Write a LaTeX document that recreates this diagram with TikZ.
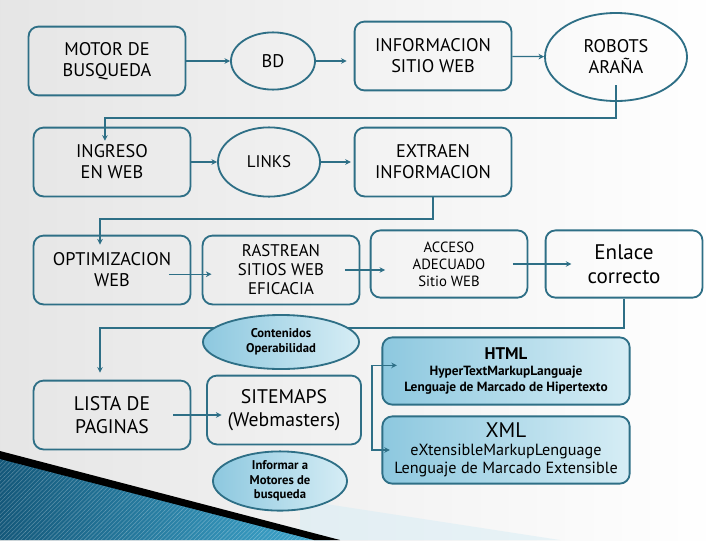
\documentclass[tikz,border=0pt]{standalone}
\usepackage{fontspec}
\setmainfont{PT Sans}
\usetikzlibrary{shapes.geometric,arrows.meta,patterns}
\definecolor{lineteal}{HTML}{2E6F86}
\definecolor{skyA}{HTML}{8DC8DF}
\definecolor{skyB}{HTML}{D6EDF5}
\definecolor{swooshA}{HTML}{14587A}
\definecolor{swooshB}{HTML}{3FA8CF}

\begin{document}
\begin{tikzpicture}[x=0.025cm, y=-0.025cm,
  box/.style={draw=lineteal, line width=1.3pt, rounded corners=7pt,
    minimum width=3.92cm, minimum height=1.72cm, align=center, inner sep=2pt},
  oval/.style={draw=lineteal, line width=1.3pt, ellipse, inner sep=0pt, align=center},
  bluebox/.style={box, left color=skyA, right color=skyB,
    minimum width=6.18cm, minimum height=1.68cm},
  blueoval/.style={oval, left color=skyA, right color=skyB},
  link/.style={draw=lineteal, line width=0.9pt, -{Stealth[length=4pt,width=4pt]}},
  big/.style={font=\fontsize{13}{15}\selectfont}]
  \useasboundingbox (0,0) rectangle (720,540);
  % Background
  \shade[left color=gray!20, right color=white] (0,0) rectangle (720,540);
  \fill[skyB, opacity=0.5] (300,500) -- (560,540) -- (300,540) -- cycle;
  % Swoosh
  \shade[left color=swooshA, right color=swooshB] (0,455) -- (330,540) -- (0,540) -- cycle;
  \fill[pattern=north east lines, pattern color=white, opacity=0.25]
    (0,455) -- (330,540) -- (0,540) -- cycle;
  \fill[black] (0,451) -- (340,540) -- (314,540) -- (0,459) -- cycle;
  % Row 1
  \node[box, big] (motor) at (107,61) {MOTOR DE\\BUSQUEDA};
  \node[oval, big, minimum width=2.1cm, minimum height=1.43cm] (bd) at (273,61) {BD};
  \node[box, big] (info) at (433,56) {INFORMACION\\SITIO WEB};
  \node[oval, big, minimum width=3.55cm, minimum height=2.2cm] (robots) at (616,57) {ROBOTS\\ARAÑA};
  % Row 2
  \node[box, big] (ingreso) at (112,162) {INGRESO\\EN WEB};
  \node[oval, font=\fontsize{12}{14}\selectfont, minimum width=2.55cm,
    minimum height=1.73cm] (links) at (269,162) {LINKS};
  \node[box, big] (extraen) at (433,162) {EXTRAEN\\INFORMACION};
  % Row 3
  \node[box, big] (optim) at (112,270) {OPTIMIZACION\\WEB};
  \node[box, font=\fontsize{12}{13.5}\selectfont] (rastrean) at (281,270) {RASTREAN\\SITIOS WEB\\EFICACIA};
  \node[box, minimum height=1.68cm, font=\fontsize{10.5}{12}\selectfont] (acceso) at (449,264)
    {ACCESO\\ADECUADO\\Sitio WEB};
  \node[box, minimum height=1.68cm, font=\fontsize{15}{17}\selectfont] (enlace) at (624,264)
    {Enlace\\correcto};
  % Row 4
  \node[box, font=\fontsize{14}{16}\selectfont] (lista) at (112,415) {LISTA DE\\PAGINAS};
  \node[box, font=\fontsize{14}{16}\selectfont, minimum width=3.85cm] (sitemaps) at (284,410)
    {SITEMAPS\\(Webmasters)};
  \node[bluebox, font=\fontsize{9.5}{11.5}\selectfont\bfseries] (html) at (506,371)
    {{\fontsize{12}{14}\selectfont HTML}\\HyperTextMarkupLanguaje\\Lenguaje de Marcado de Hipertexto};
  \node[bluebox, font=\fontsize{11.5}{13}\selectfont] (xml) at (506,450)
    {{\fontsize{15}{17}\selectfont XML}\\eXtensibleMarkupLenguage\\Lenguaje de Marcado Extensible};
  \node[blueoval, font=\fontsize{9}{10.5}\selectfont\bfseries, minimum width=3.35cm,
    minimum height=1.48cm] (informar) at (280,481) {Informar a\\Motores de\\busqueda};
  % Turning points
  \coordinate (turnA) at (0,118);
  \coordinate (turnB) at (0,219);
  \coordinate (turnC) at (0,328);
  \coordinate (brk) at (372,408);
  % Connectors
  \draw[link] (motor) -- (bd);
  \draw[link, shorten >=5pt] (bd.east) -- (info.west |- bd.east);
  \draw[link] (info) -- (robots);
  \draw[link, shorten <=-12pt, shorten >=-10pt] (robots.south) -- (robots.south |- turnA)
    -| ([xshift=-5pt]ingreso.north);
  \draw[link] (ingreso) -- (links);
  \draw[link, shorten >=2pt] (links) -- (extraen);
  \draw[link, shorten >=-7pt] (extraen.south) -- (extraen.south |- turnB)
    -| ([xshift=-0.3cm]optim.north);
  \draw[link, shorten <=-16pt, shorten >=-7pt] ([yshift=-3pt]optim.east) -- ([yshift=-3pt]rastrean.west);
  \draw[link, shorten <=-11pt, shorten >=-11pt] (rastrean.east) -- (acceso.west |- rastrean.east);
  \draw[link, shorten <=-11pt, shorten >=-19pt] (acceso) -- (enlace);
  \draw[link, shorten >=5pt] (enlace.south) -- (enlace.south |- turnC)
    -| ([xshift=-0.3cm]lista.north);
  \draw[link, shorten <=-13pt, shorten >=-11pt] (lista.east) -- (sitemaps.west |- lista.east);
  \draw[link, shorten >=-11pt] (brk) |- ([yshift=4pt]html.west);
  \draw[link, shorten >=-6pt] (brk) |- (xml.west);
  % Oval over the long connector
  \node[blueoval, font=\fontsize{9}{10.5}\selectfont\bfseries, minimum width=3.9cm,
    minimum height=1.35cm] (conten) at (281,342) {Contenidos\\Operabilidad};
\end{tikzpicture}
\end{document}
